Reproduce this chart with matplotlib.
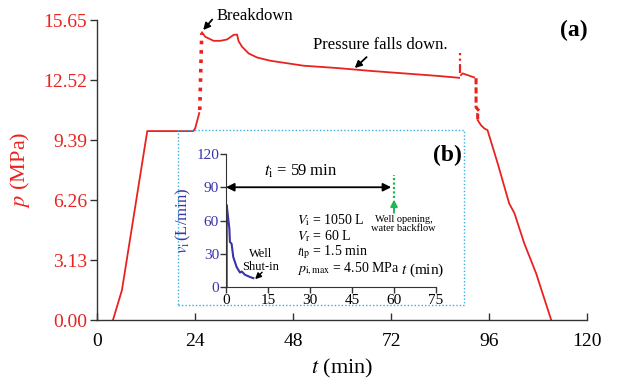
import matplotlib
matplotlib.use('Agg')
import matplotlib.pyplot as plt
from matplotlib.patches import Rectangle

plt.rcParams['font.family'] = ['Liberation Serif', 'DejaVu Serif']
plt.rcParams['mathtext.fontset'] = 'stix'

RED = '#e8231f'
BLUE = '#3b33a8'
GREEN = '#1db954'

# Hauptkurve (a): Druck p (MPa) ueber Zeit t (min), abschnittsweise
rise_t = [3.9, 6.1, 12.3, 23.6, 24.05, 25.03]
rise_p = [0.0, 1.56, 9.86, 9.86, 10.02, 10.8]
brk_t = [25.15, 25.64]
brk_p = [10.96, 14.97]
fall_t = [25.69, 26.5, 28.54, 30.18, 31.83, 33.45, 34.28, 34.67, 35.51, 37.13,
          39.19, 42.45, 50.63, 58.82, 67.0, 75.17, 83.36, 88.66]
fall_p = [15.01, 14.78, 14.57, 14.57, 14.64, 14.88, 14.9, 14.55, 14.26, 13.91,
          13.7, 13.53, 13.27, 13.15, 13.0, 12.87, 12.74, 12.64]
spike_t = [88.9, 88.9]
spike_p = [12.9, 13.93]
mid_t = [89.1, 89.5, 92.34]
mid_p = [12.78, 12.87, 12.66]
drop_t = [92.8, 92.8, 93.6, 93.2, 93.2]
drop_p = [12.62, 11.1, 10.9, 10.75, 10.43]
end_t = [93.2, 94.0, 94.8, 95.6, 98.1, 100.9, 102.2, 104.6, 107.5, 111.2]
end_p = [10.43, 10.17, 10.0, 9.91, 8.17, 6.09, 5.57, 4.0, 2.44, 0.0]

p_ticks = [0.00, 3.13, 6.26, 9.39, 12.52, 15.65]
t_ticks = [0, 24, 48, 72, 96, 120]

# Inset (b): Injektionsrate v_i (L/min)
vi_t = [0.25, 0.25, 0.6, 1.2, 1.4, 2.0, 2.6, 3.8, 5.0, 5.6, 6.8, 8.6, 9.75]
vi_v = [0.0, 74.0, 66.0, 52.8, 40.7, 39.0, 27.0, 18.0, 13.0, 14.0, 11.0, 9.0, 8.0]
vi_ticks = [0, 30, 60, 90, 120]
ti_ticks = [0, 15, 30, 45, 60, 75]
t_open = 59

fig = plt.figure(figsize=(6.3, 3.87), dpi=100)
ax = fig.add_axes([0.154, 0.173, 0.778, 0.775])

lw = 1.3
ax.plot(rise_t, rise_p, color=RED, lw=lw)
ax.plot(brk_t, brk_p, color=RED, lw=2.6, ls=(0, (1, 1.6)))
ax.plot(fall_t, fall_p, color=RED, lw=lw)
ax.plot(spike_t, spike_p, color=RED, lw=1.6, ls=(0, (4, 1.5, 1, 1.5)))
ax.plot(mid_t, mid_p, color=RED, lw=lw)
ax.plot(drop_t, drop_p, color=RED, lw=2.2, ls=(0, (2, 1)))
ax.plot(end_t, end_p, color=RED, lw=lw)

ax.set_xlim(0, 120)
ax.set_ylim(0, 15.65)
ax.set_xticks(t_ticks)
ax.set_yticks(p_ticks)
ax.set_yticklabels(['%.2f' % v for v in p_ticks], color=RED)
ax.tick_params(axis='both', labelsize=14, color='#333333', length=5, width=1)
ax.tick_params(axis='x', direction='in', pad=9)
ax.tick_params(axis='y', direction='out', pad=2)
for s in ['top', 'right']:
    ax.spines[s].set_visible(False)
for s in ['left', 'bottom']:
    ax.spines[s].set_color('#333333')
    ax.spines[s].set_linewidth(1.0)
ax.set_xlabel('$t$ (min)', fontsize=16, labelpad=5)
ax.set_ylabel('$p$ (MPa)', fontsize=16, color=RED, labelpad=8)

ax.text(1.0, 1.0, '(a)', transform=ax.transAxes, fontsize=17, fontweight='bold',
        ha='right', va='top')

arrow_k = dict(arrowstyle='-|>', color='black', lw=1.3, mutation_scale=10,
               shrinkA=0, shrinkB=0)
ax.text(29.2, 15.85, 'Breakdown', fontsize=12, ha='left', va='center', clip_on=False)
ax.annotate('', xy=(26.0, 15.13), xytext=(28.2, 15.68), annotation_clip=False,
            arrowprops=arrow_k)
ax.text(53.0, 14.35, 'Pressure falls down.', fontsize=12, ha='left', va='center')
ax.annotate('', xy=(63.1, 13.15), xytext=(66.0, 13.72), arrowprops=arrow_k)

# gepunkteter Rahmen um Inset
fig.patches.append(Rectangle((178 / 630, 1 - 305 / 387), 286 / 630, 175 / 387,
                             transform=fig.transFigure, fill=False,
                             edgecolor='#3aaee0', lw=1.0, ls=(0, (1, 1.5))))

ins = fig.add_axes([226 / 630, 1 - 287 / 387, 210 / 630, 133 / 387])
ins.patch.set_alpha(0)
ins.plot(vi_t, vi_v, color=BLUE, lw=1.5)
ins.set_xlim(0, 75)
ins.set_ylim(0, 120)
ins.set_xticks(ti_ticks)
ins.set_yticks(vi_ticks)
ins.tick_params(axis='both', labelsize=11, length=4, width=1, color='#333333', pad=1)
ins.tick_params(axis='y', labelcolor=BLUE)
for s in ['top', 'right']:
    ins.spines[s].set_visible(False)
for s in ['left', 'bottom']:
    ins.spines[s].set_color('#333333')
ins.set_ylabel('$v_\\mathrm{i}\\,$(L/min)', fontsize=12, color=BLUE, labelpad=2)

ins.annotate('', xy=(0, 90), xytext=(t_open, 90),
             arrowprops=dict(arrowstyle='<|-|>', color='black', lw=1.3, mutation_scale=12,
                             shrinkA=0, shrinkB=0))
ins.text(26.5, 104, '$t_\\mathrm{i}$ = 59 min', fontsize=12, ha='center', va='center')
ins.plot([t_open + 1, t_open + 1], [80, 101], color=GREEN, lw=1.6, ls=(0, (1, 1)))
ins.annotate('', xy=(t_open + 1, 79), xytext=(t_open + 1, 67),
             arrowprops=dict(arrowstyle='-|>', color=GREEN, lw=1.4, mutation_scale=10,
                             shrinkA=0, shrinkB=0))
ins.text(63.5, 57, 'Well opening,\nwater backflow', fontsize=7.5, ha='center', va='center',
         linespacing=1.0)

ins.text(25.4, 60, '$V_\\mathrm{i}$ = 1050 L', fontsize=10, ha='left', va='center')
ins.text(25.4, 45.5, '$V_\\mathrm{r}$ = 60 L', fontsize=10, ha='left', va='center')
ins.text(25.4, 31, '$t_\\mathrm{lp}$ = 1.5 min', fontsize=10, ha='left', va='center')
ins.text(25.4, 16.5, '$p_\\mathrm{i,max}$ = 4.50 MPa', fontsize=10, ha='left', va='center')

ins.text(12.3, 24, 'Well\nShut-in', fontsize=9, ha='center', va='center', linespacing=1.1)
ins.annotate('', xy=(10.4, 7.0), xytext=(12.9, 13.3),
             arrowprops=dict(arrowstyle='-|>', color='black', lw=1.0, mutation_scale=9,
                             shrinkA=0, shrinkB=0))
ins.text(78, 15, '$t$ (min)', fontsize=11, ha='right', va='center', clip_on=False)

fig.text(447 / 630, 1 - 155 / 387, '(b)', fontsize=17, fontweight='bold',
         ha='center', va='center')

fig.savefig('out.png', dpi=100)
